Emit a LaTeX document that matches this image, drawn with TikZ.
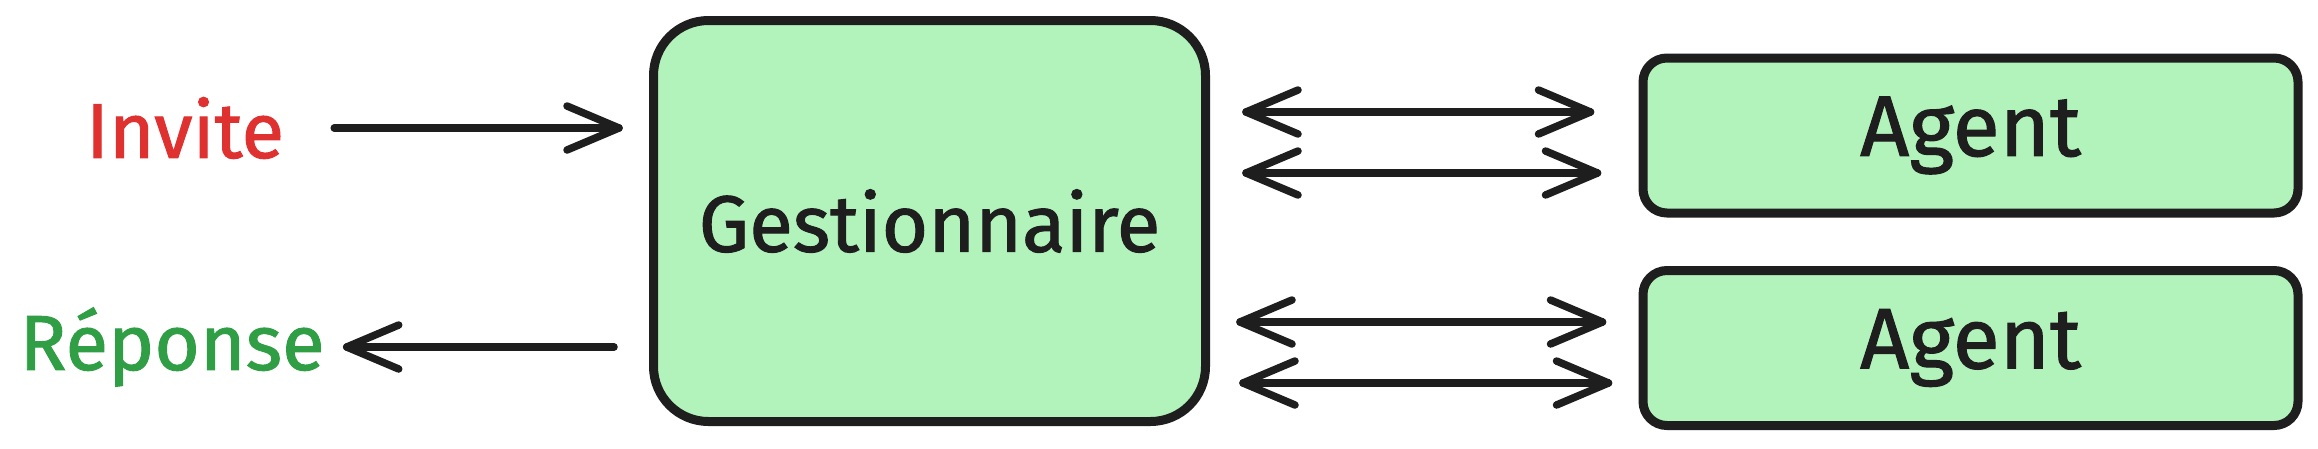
\documentclass[tikz,border=0pt]{standalone}
\usepackage{fontspec}
\setmainfont{Fira Sans}[FakeBold=1.2, UprightFeatures={FakeBold=1.2}]
\definecolor{boxfill}{HTML}{B2F2BB}
\definecolor{ink}{HTML}{1E1E1E}
\definecolor{inred}{HTML}{E03131}
\definecolor{ingreen}{HTML}{2F9E44}
\begin{document}
\begin{tikzpicture}[x=1pt,y=-1pt,
  box/.style={draw=ink, fill=boxfill, line width=9pt, rounded corners=55pt, inner sep=0pt},
  agentbox/.style={box, rounded corners=24pt, line width=9pt,
    minimum width=655pt, minimum height=155pt, font=\fontsize{86}{100}\selectfont, text=ink},
  lbl/.style={inner sep=0pt, font=\fontsize{78}{90}\selectfont},
  shaft/.style={draw=ink, line width=7.5pt, line cap=round},
  barbR/.pic={
    \fill[ink] (0,0) circle[radius=3.75pt];
    \fill[ink] (-52,-22) circle[radius=3.75pt];
    \fill[ink] (-52,22) circle[radius=3.75pt];
    \fill[ink] (1.46,-3.45) -- (-50.54,-25.45) -- (-53.46,-18.55) -- (-1.46,3.45) -- cycle;
    \fill[ink] (1.46,3.45) -- (-50.54,25.45) -- (-53.46,18.55) -- (-1.46,-3.45) -- cycle;},
  barbL/.pic={
    \fill[ink] (0,0) circle[radius=3.75pt];
    \fill[ink] (52,-22) circle[radius=3.75pt];
    \fill[ink] (52,22) circle[radius=3.75pt];
    \fill[ink] (-1.46,-3.45) -- (50.54,-25.45) -- (53.46,-18.55) -- (1.46,3.45) -- cycle;
    \fill[ink] (-1.46,3.45) -- (50.54,25.45) -- (53.46,18.55) -- (1.46,-3.45) -- cycle;}]
\useasboundingbox (0,0) rectangle (2318,448);
\fill[white] (0,0) rectangle (2318,448);

\node[box, minimum width=552pt, minimum height=401pt,
      font=\fontsize{80}{96}\selectfont, text=ink] (gest) at (929.5,221) {Gestionnaire};
\node[agentbox] (a1) at (1970.5,135.5) {Agent};
\node[agentbox] (a2) at (1970.5,348) {Agent};

\node[lbl, text=inred] (inv) at (185,128) {Invite};
\node[lbl, text=ingreen] (rep) at (172,347) {Réponse};

% Invite -> Gestionnaire
\coordinate (i1) at ([xshift=50pt]inv.east);
\coordinate (i2) at ([xshift=-30pt]inv.east -| gest.west);
\draw[shaft] (i1) -- (i2);
\pic at (i2) {barbR};

% Gestionnaire -> Reponse
\coordinate (r1) at ([xshift=-35pt]gest.west |- rep.east);
\coordinate (r2) at ([xshift=22pt]rep.east);
\draw[shaft] (r1) -- (r2);
\pic at (r2) {barbL};

% Gestionnaire <-> Agents
\coordinate (p1) at ([yshift=23.5pt]a1.west);
\coordinate (p2) at ([yshift=-37.5pt]a1.west);
\coordinate (p3) at ([yshift=26pt]a2.west);
\coordinate (p4) at ([yshift=-35pt]a2.west);
\coordinate (s1) at ([xshift=36pt]gest.east |- p1);
\coordinate (e1) at ([xshift=-48pt]p1);
\coordinate (s2) at ([xshift=36pt]gest.east |- p2);
\coordinate (e2) at ([xshift=-41pt]p2);
\coordinate (s3) at ([xshift=30pt]gest.east |- p3);
\coordinate (e3) at ([xshift=-36pt]p3);
\coordinate (s4) at ([xshift=33pt]gest.east |- p4);
\coordinate (e4) at ([xshift=-30pt]p4);
\foreach \k in {1,2,3,4} {
  \draw[shaft] (s\k) -- (e\k);
  \pic at (s\k) {barbL};
  \pic at (e\k) {barbR};
}
\end{tikzpicture}
\end{document}
